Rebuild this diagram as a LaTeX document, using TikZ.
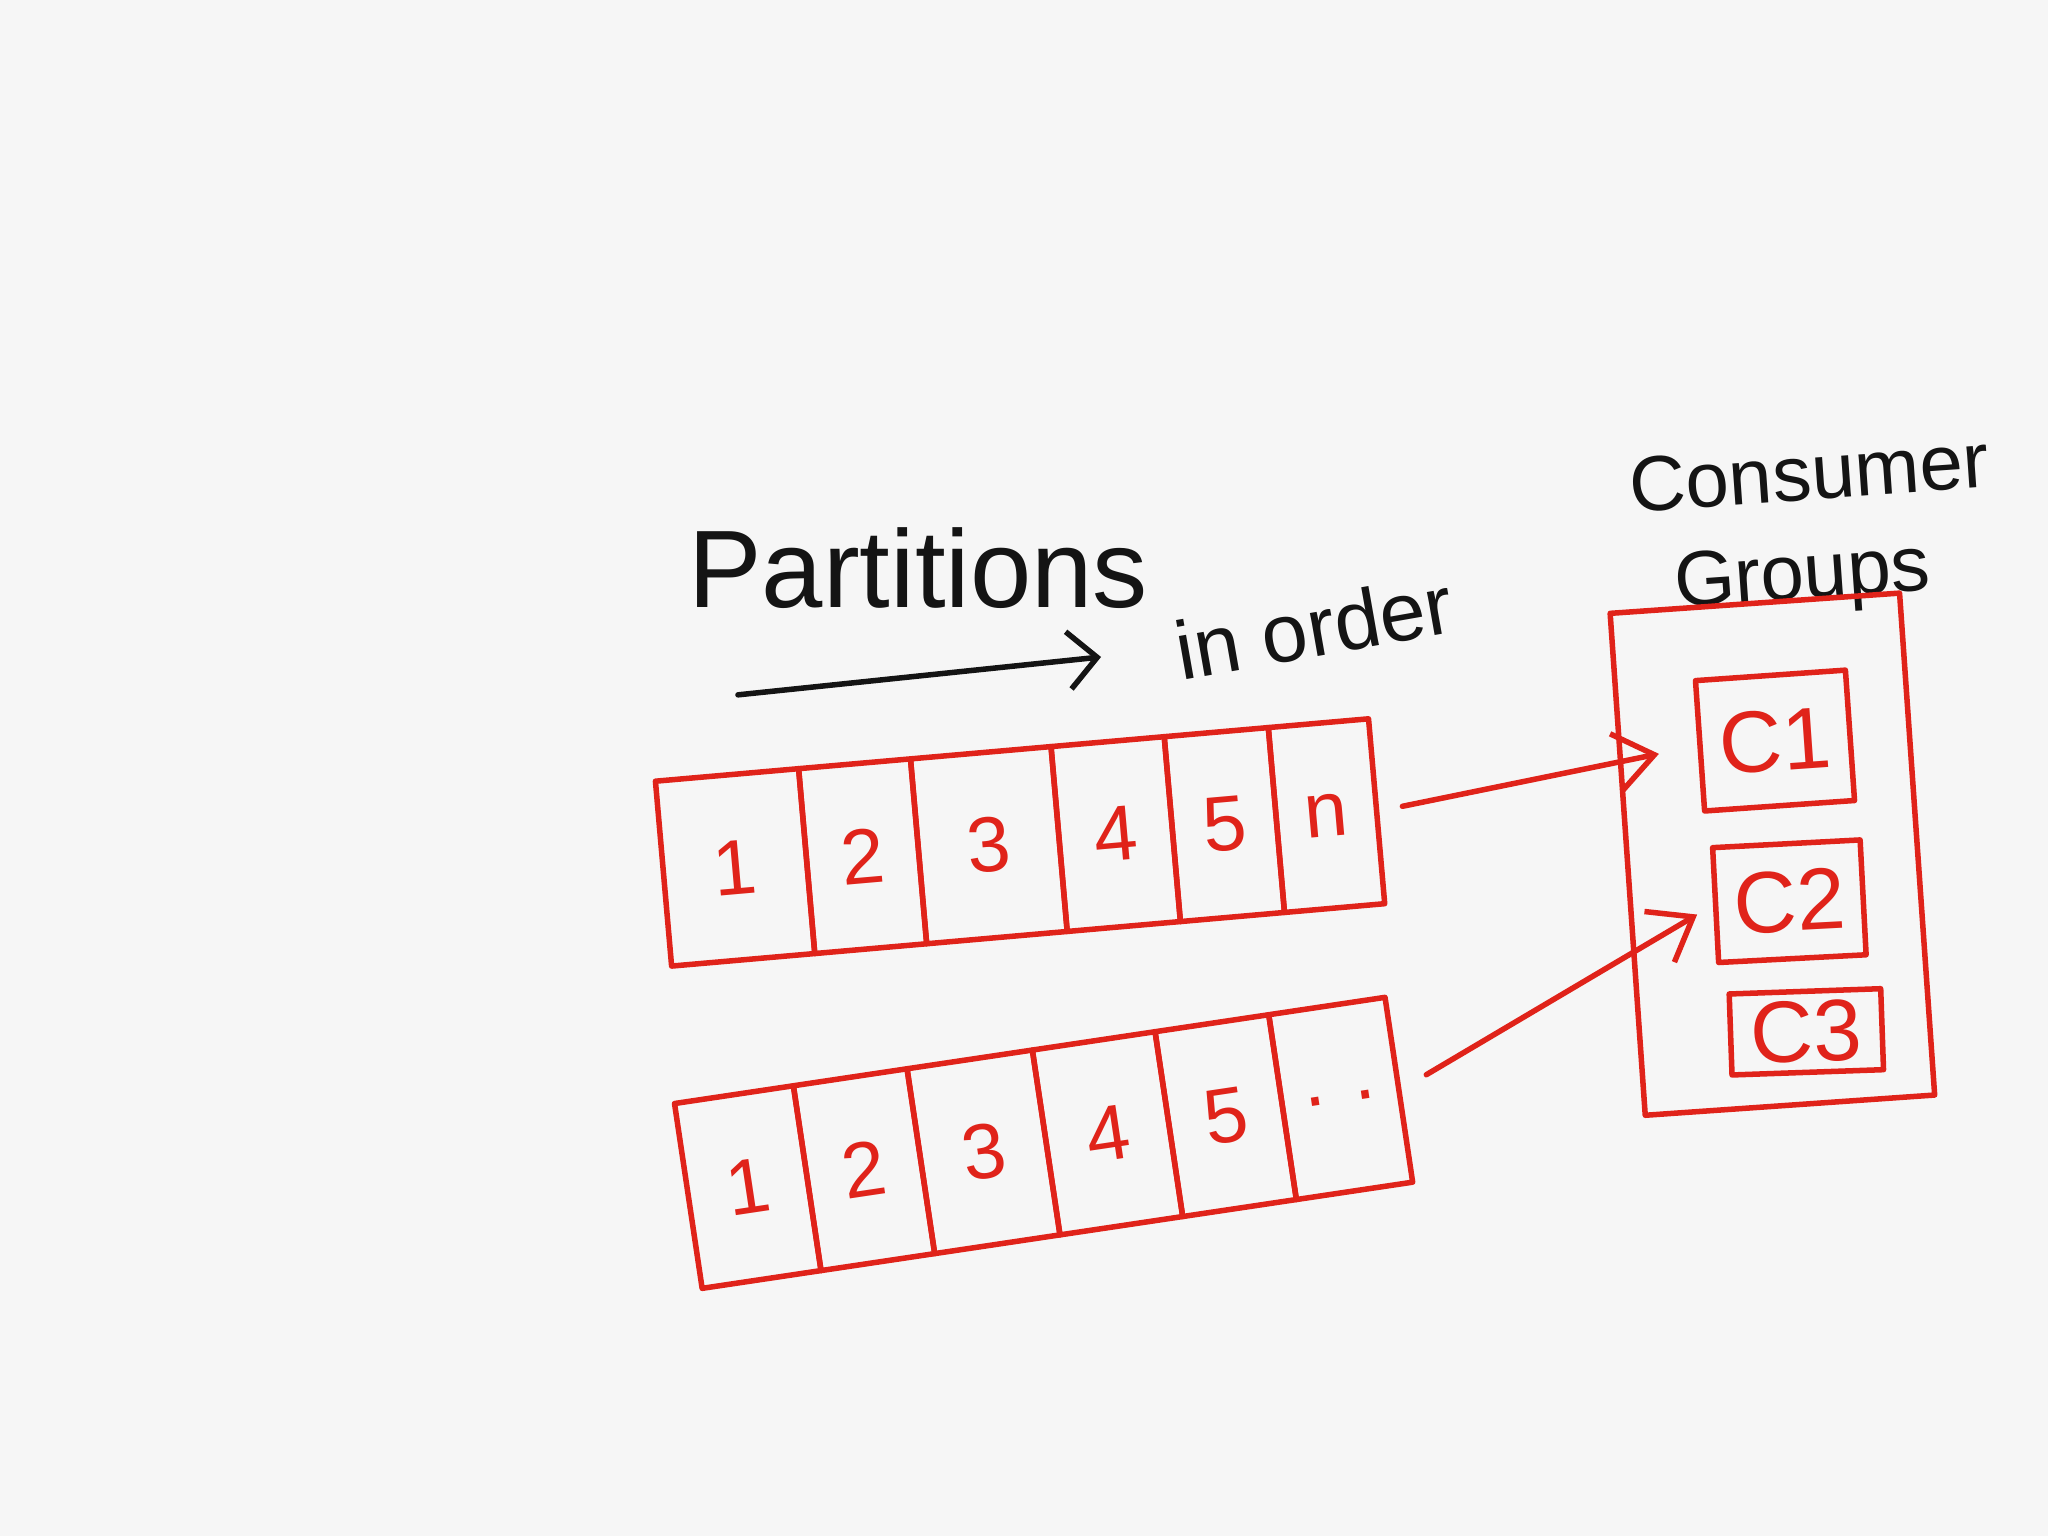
\documentclass[tikz,border=0pt]{standalone}
\usepackage{fontspec}
\setmainfont{Liberation Sans}
\usetikzlibrary{arrows.meta}
\definecolor{Ink}{HTML}{141414}
\definecolor{Pen}{HTML}{E0231A}
\definecolor{Paper}{HTML}{F6F6F6}

\begin{document}
\begin{tikzpicture}[x=0.01cm,y=-0.01cm,line cap=round,line join=round,
    cell/.style={draw=Pen,line width=1.2pt,inner sep=0pt,text=Pen,font=\fontsize{17}{17}\selectfont},
    box/.style={draw=Pen,line width=1.2pt,inner sep=0pt,text=Pen,font=\fontsize{19}{19}\selectfont},
    hand/.style={text=Ink,inner sep=0pt},
    feed/.style={draw=Pen,line width=1.2pt,-{Straight Barb[length=0.3cm,width=0.45cm]}}]
  \fill[Paper] (0,0) rectangle (1568,1176);
  \useasboundingbox (0,0) rectangle (1568,1176);

  % heading
  \node[hand,font=\fontsize{24}{24}\selectfont] (title) at (703,435) {Partitions};
  \coordinate (dirS) at (565,532);
  \coordinate (dirE) at (843,503);
  \draw[Ink,line width=1.2pt,-{Straight Barb[length=0.22cm,width=0.44cm]}] (dirS) -- (dirE);
  \node[hand,rotate=10,font=\fontsize{18}{18}\selectfont] (order) at (1006,480) {in order};

  % partition one
  \begin{scope}[shift={(781,645)},rotate=5,transform shape]
    \foreach \name/\x/\w/\lab in {
      a1/-219/1.10cm/1, a2/-121/0.86cm/2, a3/-24/1.08cm/3,
      a4/73.5/0.87cm/4, a5/157/0.80cm/5, a6/235.5/0.77cm/n}
      \node[cell,minimum width=\w,minimum height=1.42cm] (\name) at (\x,0) {\lab};
  \end{scope}

  % partition two
  \begin{scope}[shift={(799,875)},rotate=8.5,transform shape]
    \foreach \name/\x/\w/\lab in {
      b1/-229/0.92cm/1, b2/-139/0.88cm/2, b3/-46.5/0.97cm/3,
      b4/49.5/0.95cm/4, b5/141/0.88cm/5, b6/230/0.90cm/{. .}}
      \node[cell,minimum width=\w,minimum height=1.43cm] (\name) at (\x,0) {\lab};
  \end{scope}

  % consumer group
  \node[hand,rotate=4,font=\fontsize{17}{17}\selectfont] (cons) at (1385,362) {Consumer};
  \node[hand,rotate=4,font=\fontsize{17}{17}\selectfont] (grps) at (1380,444) {Groups};
  \node[box,rotate=4,minimum width=2.22cm,minimum height=3.85cm] (grp) at (1357,654) {};
  \node[box,rotate=4,minimum width=1.15cm,minimum height=1.00cm] (c1) at (1359,567) {C1};
  \node[box,rotate=3,minimum width=1.13cm,minimum height=0.88cm] (c2) at (1370,690) {C2};
  \node[box,rotate=2,minimum width=1.16cm,minimum height=0.62cm] (c3) at (1383,790) {C3};

  \draw[feed,shorten <=0.18cm,shorten >=0.3cm] (a6.east) -- (c1.west);
  \draw[feed,shorten <=0.22cm,shorten >=0.14cm] (b6.east) -- (c2.west);
\end{tikzpicture}
\end{document}
